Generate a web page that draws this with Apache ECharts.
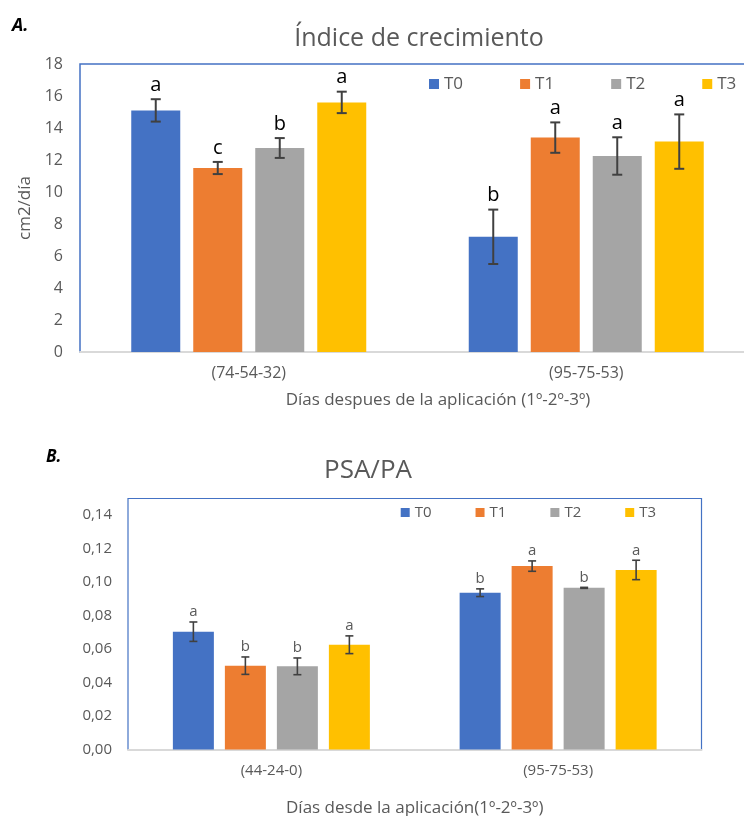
<!DOCTYPE html>
<html>
<head>
<meta charset="utf-8">
<script src="https://cdn.jsdelivr.net/npm/echarts@6/dist/echarts.min.js"></script>
<style>
html,body{margin:0;padding:0;background:#fff;}
#chart{width:744px;height:816px;}
</style>
</head>
<body>
<div id="chart"></div>
<script>
// ---------- data ----------
const treatments = ['T0', 'T1', 'T2', 'T3'];
const colors = ['#4472C4', '#ED7D31', '#A5A5A5', '#FFC000'];

// Chart A: Índice de crecimiento (cm2/día)
const categoriesA = ['(74-54-32)', '(95-75-53)'];
const indiceT0 = [15.1, 7.2];
const indiceT1 = [11.5, 13.4];
const indiceT2 = [12.75, 12.25];
const indiceT3 = [15.6, 13.15];
const errIndiceT0 = [0.7, 1.7];
const errIndiceT1 = [0.38, 0.95];
const errIndiceT2 = [0.62, 1.17];
const errIndiceT3 = [0.67, 1.7];
const letIndiceT0 = ['a', 'b'];
const letIndiceT1 = ['c', 'a'];
const letIndiceT2 = ['b', 'a'];
const letIndiceT3 = ['a', 'a'];

// Chart B: PSA/PA
const categoriesB = ['(44-24-0)', '(95-75-53)'];
const psaT0 = [0.0704, 0.0937];
const psaT1 = [0.0501, 0.1096];
const psaT2 = [0.0497, 0.0966];
const psaT3 = [0.0626, 0.1073];
const errPsaT0 = [0.0058, 0.0023];
const errPsaT1 = [0.0052, 0.0031];
const errPsaT2 = [0.0050, 0.0003];
const errPsaT3 = [0.0053, 0.0058];
const letPsaT0 = ['a', 'b'];
const letPsaT1 = ['b', 'a'];
const letPsaT2 = ['b', 'b'];
const letPsaT3 = ['a', 'a'];

const meansA = [indiceT0, indiceT1, indiceT2, indiceT3];
const errsA = [errIndiceT0, errIndiceT1, errIndiceT2, errIndiceT3];
const letsA = [letIndiceT0, letIndiceT1, letIndiceT2, letIndiceT3];
const meansB = [psaT0, psaT1, psaT2, psaT3];
const errsB = [errPsaT0, errPsaT1, errPsaT2, errPsaT3];
const letsB = [letPsaT0, letPsaT1, letPsaT2, letPsaT3];

// ---------- style ----------
const FONT = 'Open Sans';
const GRAY = '#595959';
const BW_A = 49, GAP_A = 13;
const BW_B = 41, GAP_B = 11;

function barSeries(name, idx, data, gridIdx, bw, gap) {
  return {
    type: 'bar', name: name, xAxisIndex: gridIdx, yAxisIndex: gridIdx,
    data: data, barWidth: bw, barGap: (gap / bw * 100) + '%',
    itemStyle: { color: colors[idx] }, z: 2, silent: true
  };
}

function errSeries(idx, means, errs, letters, gridIdx, bw, gap, capW, lw, letterFont, letterColor, letterGap) {
  const offset = (idx - 1.5) * (bw + gap);
  return {
    type: 'custom', name: 'err' + gridIdx + idx, xAxisIndex: gridIdx, yAxisIndex: gridIdx,
    z: 5, silent: true, clip: false,
    data: means.map((m, i) => [i, m, errs[i]]),
    renderItem: function (params, api) {
      const c = api.value(0), m = api.value(1), e = api.value(2);
      const top = api.coord([c, m + e]);
      const bot = api.coord([c, m - e]);
      const x = top[0] + offset;
      const ls = { stroke: '#404040', lineWidth: lw };
      return {
        type: 'group',
        children: [
          { type: 'line', shape: { x1: x, y1: top[1], x2: x, y2: bot[1] }, style: ls },
          { type: 'line', shape: { x1: x - capW / 2, y1: top[1], x2: x + capW / 2, y2: top[1] }, style: ls },
          { type: 'line', shape: { x1: x - capW / 2, y1: bot[1], x2: x + capW / 2, y2: bot[1] }, style: ls },
          { type: 'text', style: {
              text: letters[params.dataIndex], x: x, y: top[1] - letterGap,
              fill: letterColor, fontSize: letterFont, fontFamily: FONT,
              align: 'center', verticalAlign: 'middle' } }
        ]
      };
    }
  };
}

const series = [];
treatments.forEach((t, i) => series.push(barSeries(t, i, meansA[i], 0, BW_A, GAP_A)));
treatments.forEach((t, i) => series.push(barSeries(t, i, meansB[i], 1, BW_B, GAP_B)));
treatments.forEach((t, i) => series.push(errSeries(i, meansA[i], errsA[i], letsA[i], 0, BW_A, GAP_A, 10, 2, 20, '#000', 14)));
treatments.forEach((t, i) => series.push(errSeries(i, meansB[i], errsB[i], letsB[i], 1, BW_B, GAP_B, 8, 1.6, 15, GRAY, 10)));

const option = {
  animation: false,
  textStyle: { fontFamily: FONT },
  title: [
    { text: 'A.', left: 12, top: 17, padding: 0,
      textStyle: { fontSize: 18, fontWeight: 'bold', fontStyle: 'italic', color: '#000', fontFamily: FONT } },
    { text: 'Índice de crecimiento', left: 419, top: 26, padding: 0, textAlign: 'center',
      textStyle: { fontSize: 25, fontWeight: 'normal', color: GRAY, fontFamily: FONT } },
    { text: 'B.', left: 46, top: 449, padding: 0,
      textStyle: { fontSize: 17, fontWeight: 'bold', fontStyle: 'italic', color: '#000', fontFamily: FONT } },
    { text: 'PSA/PA', left: 368, top: 458, padding: 0, textAlign: 'center',
      textStyle: { fontSize: 26, fontWeight: 'normal', color: GRAY, fontFamily: FONT } }
  ],
  legend: [
    { data: treatments, left: 429, top: 75.5, padding: 0, itemGap: 57, itemWidth: 10, itemHeight: 10,
      icon: 'rect', selectedMode: false, textStyle: { fontSize: 17, color: GRAY, fontFamily: FONT } },
    { data: treatments, left: 400.7, top: 505, padding: 0, itemGap: 44, itemWidth: 9, itemHeight: 9,
      icon: 'rect', selectedMode: false, textStyle: { fontSize: 15, color: GRAY, fontFamily: FONT } }
  ],
  grid: [
    { left: 80, top: 64, width: 675, height: 288, show: true, borderColor: '#4472C4', borderWidth: 1.5,
      backgroundColor: 'transparent', outerBoundsMode: 'none', containLabel: false },
    { left: 128, top: 498.5, width: 573.5, height: 251, show: true, borderColor: '#4472C4', borderWidth: 1.2,
      backgroundColor: 'transparent', outerBoundsMode: 'none', containLabel: false }
  ],
  xAxis: [
    { type: 'category', gridIndex: 0, data: categoriesA,
      axisLine: { lineStyle: { color: '#D9D9D9', width: 2 } }, axisTick: { show: false },
      axisLabel: { fontSize: 16, color: GRAY, margin: 13 },
      name: 'Días despues de la aplicación (1º-2º-3º)', nameLocation: 'middle', nameGap: 40,
      nameTextStyle: { fontSize: 17, color: GRAY, padding: [0, 0, 0, 41] } },
    { type: 'category', gridIndex: 1, data: categoriesB,
      axisLine: { lineStyle: { color: '#D9D9D9', width: 2 } }, axisTick: { show: false },
      axisLabel: { fontSize: 15, color: GRAY, margin: 14 },
      name: 'Días desde la aplicación(1º-2º-3º)', nameLocation: 'middle', nameGap: 50,
      nameTextStyle: { fontSize: 17, color: GRAY } }
  ],
  yAxis: [
    { type: 'value', gridIndex: 0, min: 0, max: 18, interval: 2,
      axisLine: { show: false }, axisTick: { show: false }, splitLine: { show: false },
      axisLabel: { fontSize: 16, color: GRAY, margin: 17 },
      name: 'cm2/día', nameLocation: 'middle', nameGap: 45,
      nameTextStyle: { fontSize: 17, color: GRAY } },
    { type: 'value', gridIndex: 1, min: 0, max: 0.15, interval: 0.02,
      axisLine: { show: false }, axisTick: { show: false }, splitLine: { show: false },
      axisLabel: { fontSize: 15, color: GRAY, margin: 16, showMaxLabel: false,
        formatter: v => (v > 0.145 ? '' : v.toFixed(2).replace('.', ',')) } }
  ],
  series: series
};

const chart = echarts.init(document.getElementById('chart'), null, { renderer: 'canvas' });
chart.setOption(option);
</script>
</body>
</html>
